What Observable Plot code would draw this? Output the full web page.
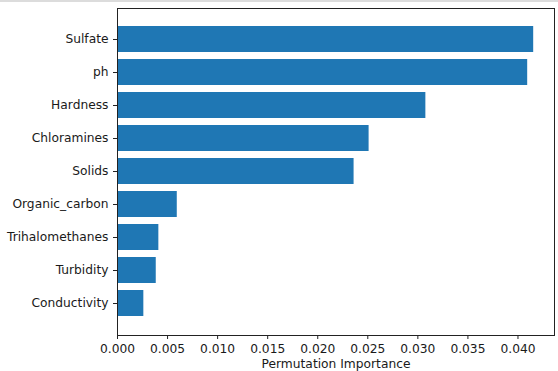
<!DOCTYPE html>
<html>
<head>
<meta charset="utf-8">
<script src="https://cdn.jsdelivr.net/npm/d3@7"></script>
<script src="https://cdn.jsdelivr.net/npm/@observablehq/plot@0.6"></script>
<style>
  html, body { margin: 0; padding: 0; background: #fff; }
  #wrap { width: 558px; border-top: 2px solid #dcdcdc; }
  svg { display: block; }
</style>
</head>
<body>
<div id="wrap"></div>
<script>
const features = ["Sulfate", "ph", "Hardness", "Chloramines", "Solids", "Organic_carbon", "Trihalomethanes", "Turbidity", "Conductivity"];
const importances = [0.04157, 0.04097, 0.0308, 0.02513, 0.02363, 0.00597, 0.00413, 0.00387, 0.00263];
const xTicks = [0, 0.005, 0.01, 0.015, 0.02, 0.025, 0.03, 0.035, 0.04];
const xLabel = "Permutation Importance";

const data = features.map((f, i) => ({feature: f, value: importances[i]}));
const xMax = d3.max(importances) * 1.05;

const chart = Plot.plot({
  width: 558,
  height: 369,
  marginLeft: 117,
  marginRight: 4,
  marginTop: 6,
  marginBottom: 36,
  style: {fontFamily: "DejaVu Sans", fontSize: "12.25px", color: "#1a1a1a", background: "#fff"},
  x: {domain: [0, xMax]},
  y: {domain: features, paddingInner: 0.2, paddingOuter: 0.44},
  marks: [
    Plot.barX(data, {x: "value", y: "feature", fill: "#1f77b4"}),
    Plot.axisY({tickSize: 4, tickPadding: 5, label: null, stroke: "#222"}),
    Plot.axisX({ticks: xTicks, tickFormat: d3.format(".3f"), tickSize: 4, tickPadding: 4.5, stroke: "#222",
      label: xLabel, labelAnchor: "center", labelArrow: "none", labelOffset: 32}),
    Plot.frame({stroke: "#222", strokeWidth: 1})
  ]
});
document.getElementById("wrap").appendChild(chart);
</script>
</body>
</html>
